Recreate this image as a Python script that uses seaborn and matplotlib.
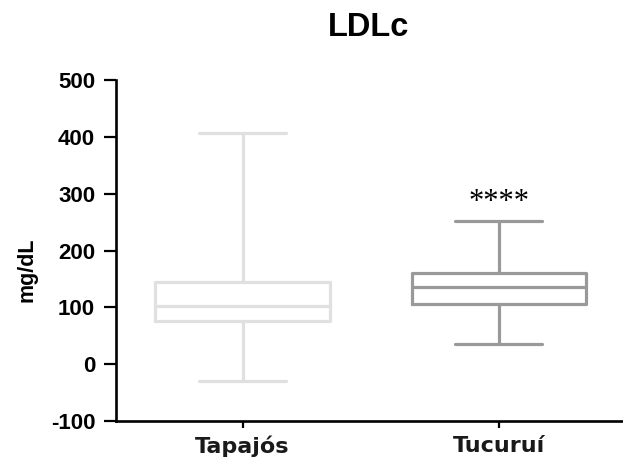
import matplotlib
matplotlib.use("Agg")
import matplotlib.pyplot as plt
import seaborn as sns
import pandas as pd

# Data: five-number summaries (min, Q1, median, Q3, max)
groups = ["Tapajós", "Tucuruí"]
tapajos_vals = [-30, 76, 102, 144, 408]
tucurui_vals = [36, 105, 135, 160, 253]
colors = ["#e0e0e0", "#999999"]
yticks = [-100, 0, 100, 200, 300, 400, 500]

df = pd.DataFrame({
    "group": [groups[0]] * len(tapajos_vals) + [groups[1]] * len(tucurui_vals),
    "value": tapajos_vals + tucurui_vals,
})

sns.set_style("white")
plt.rcParams["font.family"] = ["Liberation Sans", "DejaVu Sans"]
plt.rcParams["text.color"] = "black"
plt.rcParams["axes.labelcolor"] = "black"
plt.rcParams["xtick.color"] = "black"
plt.rcParams["ytick.color"] = "black"

fig = plt.figure(figsize=(6.23, 4.62), dpi=100)
ax = fig.add_axes([0.1862, 0.0894, 0.8118, 0.7364])

sns.boxplot(data=df, x="group", y="value", hue="group", palette=colors,
            fill=False, whis=(0, 100), width=0.68, linewidth=2.3,
            legend=False, ax=ax, showfliers=False)

ax.set_xlim(-0.494, 1.48)
ax.set_ylim(-100, 500)
ax.set_yticks(yticks)
ax.set_yticklabels([str(t) for t in yticks], fontsize=16, fontweight="bold")
ax.set_xticks([0, 1])
ax.set_xticklabels(groups, fontsize=16, fontweight="bold", color="#1a1a1a",
                   family=["DejaVu Sans"])
ax.set_xlabel("")
ax.set_ylabel("mg/dL", fontsize=15.5, fontweight="bold")
ax.yaxis.set_label_coords(-0.156, 0.445)
ax.set_title("LDLc", fontsize=23.5, fontweight="bold", pad=32, color="black")

for side in ["top", "right"]:
    ax.spines[side].set_visible(False)
for side in ["left", "bottom"]:
    ax.spines[side].set_linewidth(1.9)
    ax.spines[side].set_color("black")
ax.tick_params(axis="y", direction="out", length=9, width=1.6, color="black", left=True, pad=6)
ax.tick_params(axis="x", direction="out", length=5, width=1.6, color="black", bottom=True, pad=6)

ax.text(1, 284, "****", ha="center", va="center", fontsize=22,
        family=["Liberation Serif", "DejaVu Serif"])

fig.savefig("out.png", dpi=100)
